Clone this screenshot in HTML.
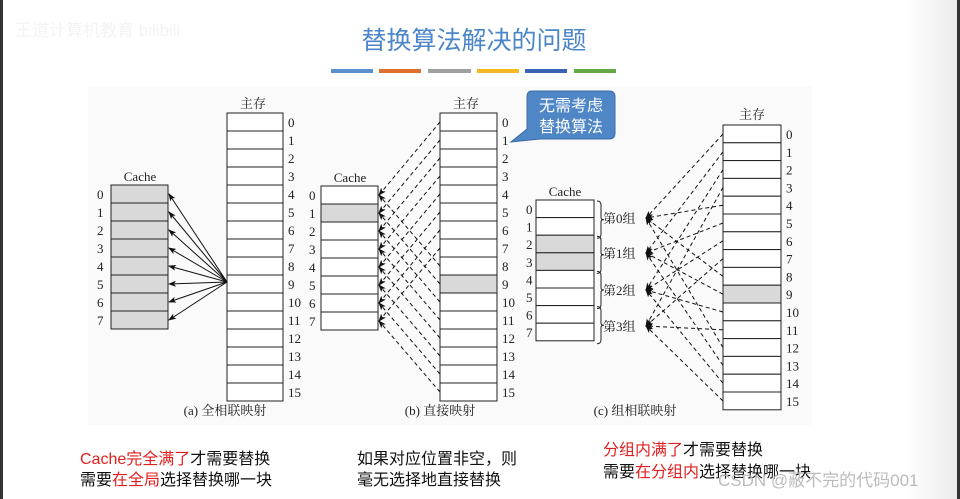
<!DOCTYPE html>
<html><head><meta charset="utf-8">
<style>
html,body{margin:0;padding:0;background:#fff;}
body{width:960px;height:499px;overflow:hidden;position:relative;font-family:"Liberation Serif","Noto Serif CJK SC",serif;}
svg{position:absolute;left:0;top:0;}
.t{font-family:"Liberation Sans","Noto Sans CJK SC",sans-serif;}
</style></head>
<body>
<svg id="s" width="960" height="499" xmlns="http://www.w3.org/2000/svg">
<defs>
<linearGradient id="rg" x1="0" x2="1"><stop offset="0" stop-color="#fff"/><stop offset="1" stop-color="#ececec"/></linearGradient>
<marker id="ah" markerWidth="8" markerHeight="6" refX="7" refY="3" orient="auto" markerUnits="userSpaceOnUse"><path d="M0,0 L8,3 L0,6 L2,3 Z" fill="#111"/></marker>
</defs>
<rect x="0" y="0" width="3" height="499" fill="#333"/>
<rect x="905" y="0" width="52" height="499" fill="url(#rg)"/>
<rect x="957" y="0" width="3" height="499" fill="#333"/>
<text x="15" y="36" font-size="17" fill="#f3f3f3" class="t">王道计算机教育 bilibili</text>
<text x="474" y="49" font-size="25" fill="#4a86c8" text-anchor="middle" class="t">替换算法解决的问题</text>
<rect x="331" y="69" width="42" height="4" fill="#5b8fd0"/>
<rect x="379" y="69" width="42" height="4" fill="#e07030"/>
<rect x="428" y="69" width="43" height="4" fill="#a0a0a0"/>
<rect x="477" y="69" width="42" height="4" fill="#f5b820"/>
<rect x="525" y="69" width="42" height="4" fill="#3a62b0"/>
<rect x="574" y="69" width="42" height="4" fill="#62a844"/>
<rect x="88" y="86" width="724" height="339" fill="#fafafa"/>
<g id="g"></g>
<path d="M532,91 H609 Q615,91 615,97 V133 Q615,139 609,139 H540 L511,142 L527,129 V97 Q527,91 532,91 Z" fill="#4f86c6" stroke="#3a6aa5"/>
<text x="571" y="111" font-size="16" fill="#fff" text-anchor="middle" class="t">无需考虑</text>
<text x="571" y="132" font-size="16" fill="#fff" text-anchor="middle" class="t">替换算法</text>
<g font-size="16" class="t">
<text x="80" y="464"><tspan fill="#e02020">Cache完全满了</tspan><tspan fill="#111">才需要替换</tspan></text>
<text x="80" y="485"><tspan fill="#111">需要</tspan><tspan fill="#e02020">在全局</tspan><tspan fill="#111">选择替换哪一块</tspan></text>
<text x="357" y="464" fill="#111">如果对应位置非空，则</text>
<text x="357" y="485" fill="#111">毫无选择地直接替换</text>
<text x="603" y="455"><tspan fill="#e02020">分组内满了</tspan><tspan fill="#111">才需要替换</tspan></text>
<text x="603" y="477"><tspan fill="#111">需要</tspan><tspan fill="#e02020">在分组内</tspan><tspan fill="#111">选择替换哪一块</tspan></text>
<text x="718" y="486" fill="#bbb" font-size="17">CSDN @蔽不完的代码001</text>
</g>
</svg>
<script>
var g=document.getElementById('g'),h='';
function R(x,y,w,hh,f){h+='<rect x="'+x+'" y="'+y+'" width="'+w+'" height="'+hh+'" fill="'+(f||'#fff')+'" stroke="#222" stroke-width="1"/>';}
function T(x,y,s,sz,a){h+='<text x="'+x+'" y="'+y+'" font-size="'+(sz||13)+'" fill="#222"'+(a?' text-anchor="'+a+'"':'')+'>'+s+'</text>';}
function L(x1,y1,x2,y2,d){h+='<line x1="'+x1+'" y1="'+y1+'" x2="'+x2+'" y2="'+y2+'" stroke="#111" stroke-width="1"'+(d?' stroke-dasharray="4,3"':'')+' marker-end="url(#ah)"/>';}
T(253,108,'主存',13,'middle');
for(var i=0;i<16;i++){R(227,113+18*i,56,18);T(288,127+18*i,i,13);}
T(140,181,'Cache',13,'middle');
for(var i=0;i<8;i++){R(111,185+18*i,57,18,'#d9d9d9');T(97,199+18*i,i,13);}
for(var i=0;i<8;i++)L(227,282,169,194+18*i);
T(225,415,'(a) 全相联映射',13,'middle');
T(466,108,'主存',13,'middle');
for(var i=0;i<16;i++){R(440,113+18*i,57,18,i==9?'#d9d9d9':null);T(502,127+18*i,i,13);}
T(350,182,'Cache',13,'middle');
for(var i=0;i<8;i++){R(321,186+18*i,57,18,i==1?'#d9d9d9':null);T(309,200+18*i,i,13);}
for(var j=0;j<16;j++)L(440,122+18*j,379,195+18*(j%8),1);
T(440,415,'(b) 直接映射',13,'middle');
T(752,119,'主存',13,'middle');
for(var i=0;i<16;i++){R(723,125+17.8*i,58,17.8,i==9?'#d9d9d9':null);T(786,139+17.8*i,i,13);}
T(565,196,'Cache',13,'middle');
for(var i=0;i<8;i++){R(536,200+17.6*i,58,17.6,(i==2||i==3)?'#d9d9d9':null);T(526,214+17.6*i,i,13);}
var gy=[218,253,290,326];
for(var k=0;k<4;k++){var y0=200+35.2*k;
h+='<path d="M597,'+(y0+1)+' q4,0 4,4 v12.6 q0,2 3,2 q-3,0 -3,2 v12.6 q0,4 -4,4" fill="none" stroke="#222"/>';
T(603,gy[k]+5,'第'+k+'组',13);}
for(var j=0;j<16;j++)L(723,134+17.8*j,646,gy[j%4],1);
T(635,415,'(c) 组相联映射',13,'middle');
g.innerHTML=h;
</script>
</body></html>
